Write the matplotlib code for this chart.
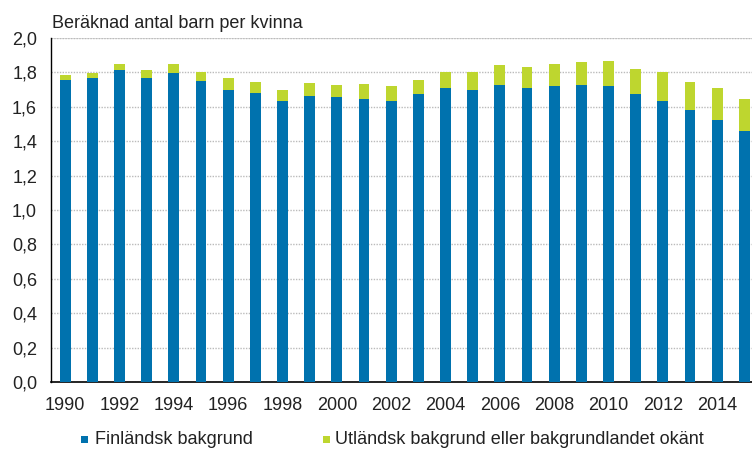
import matplotlib
matplotlib.use("Agg")
import matplotlib.pyplot as plt
from matplotlib.ticker import MultipleLocator, FuncFormatter
from matplotlib.patches import Rectangle

plt.rcParams['font.family'] = ['Liberation Sans', 'DejaVu Sans']

years = list(range(1990, 2016))
finnish = [1.758, 1.766, 1.812, 1.766, 1.795, 1.748, 1.700, 1.682, 1.635, 1.663,
           1.655, 1.645, 1.635, 1.673, 1.709, 1.700, 1.729, 1.709, 1.719, 1.729,
           1.719, 1.673, 1.635, 1.580, 1.523, 1.458]
total = [1.783, 1.795, 1.849, 1.812, 1.849, 1.800, 1.766, 1.746, 1.700, 1.738,
         1.729, 1.730, 1.719, 1.754, 1.800, 1.800, 1.841, 1.830, 1.849, 1.859,
         1.868, 1.822, 1.800, 1.746, 1.709, 1.644]
foreign = [t - f for t, f in zip(total, finnish)]
series_names = ["Finländsk bakgrund", "Utländsk bakgrund eller bakgrundlandet okänt"]
title = "Beräknad antal barn per kvinna"

blue = "#0072AE"
green = "#BED62F"
txt = '#222222'
FS = 13

W, H = 752, 451
fig = plt.figure(figsize=(W / 100, H / 100), dpi=100)
ax = fig.add_axes([51/W, 69/H, (W - 51)/W, 344/H])

ax.bar(years, finnish, width=0.4, color=blue, zorder=3)
ax.bar(years, foreign, bottom=finnish, width=0.4, color=green, zorder=3)

ax.set_ylim(0, 2.0)
ax.set_xlim(1989.48, 2015.28)
ax.yaxis.set_major_locator(MultipleLocator(0.2))
ax.yaxis.set_major_formatter(FuncFormatter(lambda v, p: f"{v:.1f}".replace(".", ",")))
ax.set_xticks(years[::2])
ax.set_xticklabels([str(y) for y in years[::2]])

ax.grid(axis='y', color='#BBBBBB', linestyle=(0, (1, 1)), linewidth=1.0, zorder=0)
ax.axhline(2.0, color='#DDDDDD', linewidth=1.5, zorder=1)
for s in ['top', 'right']:
    ax.spines[s].set_visible(False)
ax.spines['left'].set_color('black')
ax.spines['bottom'].set_color('black')
ax.spines['left'].set_linewidth(1.0)
ax.spines['bottom'].set_linewidth(1.2)
ax.tick_params(axis='both', length=0, labelsize=FS, colors=txt)
ax.tick_params(axis='y', pad=10)
ax.tick_params(axis='x', pad=11)

fig.text(52/W, 1 - 28.5/H, title, fontsize=FS, color=txt, va='baseline', ha='left')

# legend
legend_x = [(81, 95), (323, 335)]
for (sx, tx), name, col in zip(legend_x, series_names, [blue, green]):
    fig.add_artist(Rectangle((sx / W, 1 - 443 / H), 7 / W, 7 / H,
                             transform=fig.transFigure, color=col, lw=0))
    fig.text(tx / W, 1 - 444 / H, name, fontsize=FS, color=txt, va='baseline', ha='left')

fig.savefig("out.png", dpi=100)
